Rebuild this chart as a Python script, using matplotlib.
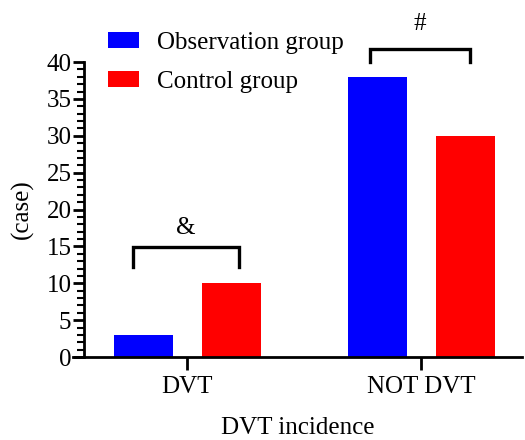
import numpy as np
import matplotlib
matplotlib.use('Agg')
import matplotlib.pyplot as plt
from matplotlib.ticker import MultipleLocator

plt.rcParams['font.family'] = ['Liberation Serif', 'DejaVu Serif']

# data
categories = ['DVT', 'NOT DVT']
observation = [3, 38]
control = [10, 30]
groups = ['Observation group', 'Control group']
colors = ['#0000ff', '#ff0000']
marks = ['&', '#']

fig = plt.figure(figsize=(5.25, 4.4), dpi=100)
ax = fig.add_axes([73/525, 83/440, 449/525, 295/440])

x = np.arange(len(categories))
w = 0.252
ax.bar(x - 0.186, observation, w, color=colors[0], label=groups[0])
ax.bar(x + 0.19, control, w, color=colors[1], label=groups[1])

ax.set_xlim(-0.487, 1.432)
ax.set_ylim(0, 40)

# significance brackets (x0, x1, foot, top, gap to mark)
br = [(-0.231, 0.222, 12.2, 14.9, 1.1), (0.782, 1.209, 40.0, 41.7, 1.9)]
for i, (x0, x1, lo, hi, gap) in enumerate(br):
    ax.plot([x0, x0, x1, x1], [lo, hi, hi, lo], color='black', lw=2.4,
            solid_joinstyle='miter', clip_on=False)
    ax.text((x0 + x1) / 2, hi + gap, marks[i], ha='center', va='bottom',
            fontsize=18, clip_on=False)

for s in ['top', 'right']:
    ax.spines[s].set_visible(False)
ax.spines['left'].set_position(('data', -0.44))
ax.spines['left'].set_linewidth(2)
ax.spines['bottom'].set_linewidth(2)

ax.set_xticks(x)
ax.set_xticklabels(categories)
ax.yaxis.set_major_locator(MultipleLocator(5))
ax.yaxis.set_minor_locator(MultipleLocator(1))
ax.tick_params(axis='y', which='major', length=8, width=2, labelsize=18, pad=1)
ax.tick_params(axis='y', which='minor', length=5, width=1.5)
ax.tick_params(axis='x', which='major', length=9, width=2, labelsize=18, pad=5)

ax.set_ylabel('(case)', fontsize=18, labelpad=9)
ax.set_xlabel('DVT incidence', fontsize=18, labelpad=13)

ax.legend(loc='upper left', bbox_to_anchor=(0.056, 1.135), frameon=False, fontsize=18,
          handlelength=1.25, handleheight=0.62, handletextpad=0.72, labelspacing=0.68,
          borderaxespad=0)

fig.savefig('out.png', dpi=100)
